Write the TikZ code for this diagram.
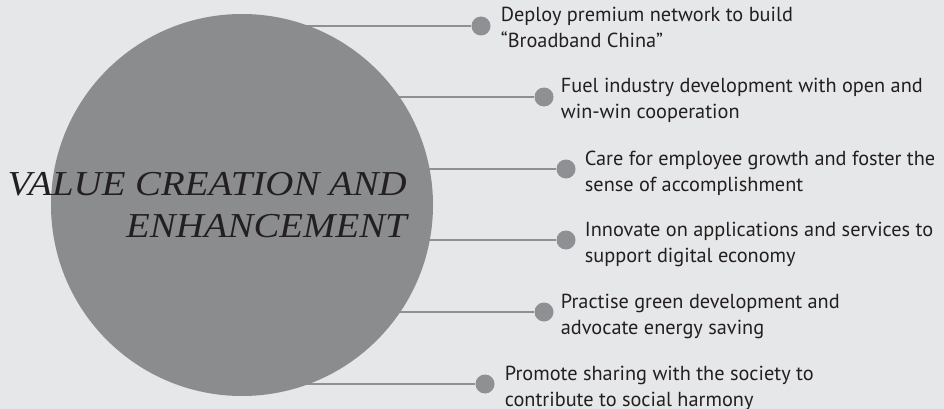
\documentclass[tikz,border=0pt]{standalone}
\usepackage{fontspec}
\setmainfont{Liberation Serif}
\newfontfamily\titlefont[FakeStretch=1.11]{Liberation Serif}
\newfontfamily\labfont{PT Sans}
\definecolor{bgc}{HTML}{E6E7E8}
\definecolor{circc}{HTML}{8B8C8E}
\definecolor{dotc}{HTML}{8F9093}
\definecolor{txtc}{HTML}{231F20}
\tikzset{
  dotnode/.style={circle,fill=dotc,inner sep=0pt,minimum size=19pt},
  conn/.style={draw=dotc,line width=2.6pt},
  labnode/.style={anchor=base west,align=left,inner sep=0pt,text=txtc,font=\labfont\fontsize{20.3}{26}\selectfont},
}
\begin{document}
\begin{tikzpicture}[x=1pt,y=-1pt]
\fill[bgc] (0,0) rectangle (944,409);
\useasboundingbox (0,0) rectangle (944,409);
\coordinate (cc) at (242,205);
\node[dotnode] (d1) at (481,26) {};
\node[dotnode] (d2) at (544,97) {};
\node[dotnode] (d3) at (566,169) {};
\node[dotnode] (d4) at (566,240) {};
\node[dotnode] (d5) at (544,312) {};
\node[dotnode] (d6) at (485,384) {};
\foreach \i in {1,...,6}{
  \draw[conn] (cc |- d\i) -- (d\i);
}
\fill[circc] (cc) circle[radius=191];
\node[circle,minimum size=382pt,inner sep=0pt] (circ) at (cc) {};
\node[labnode] (t1) at ([xshift=10pt,yshift=-22pt]d1.east) {Deploy premium network to build\\“Broadband China”};
\node[labnode] (t2) at ([xshift=7pt,yshift=-22pt]d2.east) {Fuel industry development with open and\\win-win cooperation};
\node[labnode] (t3) at ([xshift=9pt,yshift=-22pt]d3.east) {Care for employee growth and foster the\\sense of accomplishment};
\node[labnode] (t4) at ([xshift=9pt,yshift=-22pt]d4.east) {Innovate on applications and services to\\support digital economy};
\node[labnode] (t5) at ([xshift=7pt,yshift=-22pt]d5.east) {Practise green development and\\advocate energy saving};
\node[labnode] (t6) at ([xshift=10pt,yshift=-22pt]d6.east) {Promote sharing with the society to\\contribute to social harmony};
\node[anchor=base east,align=right,inner sep=0pt,text=txtc,font=\titlefont\itshape\fontsize{35}{42}\selectfont] (title) at (407,237) {VALUE CREATION AND\\ENHANCEMENT};
\end{tikzpicture}
\end{document}
